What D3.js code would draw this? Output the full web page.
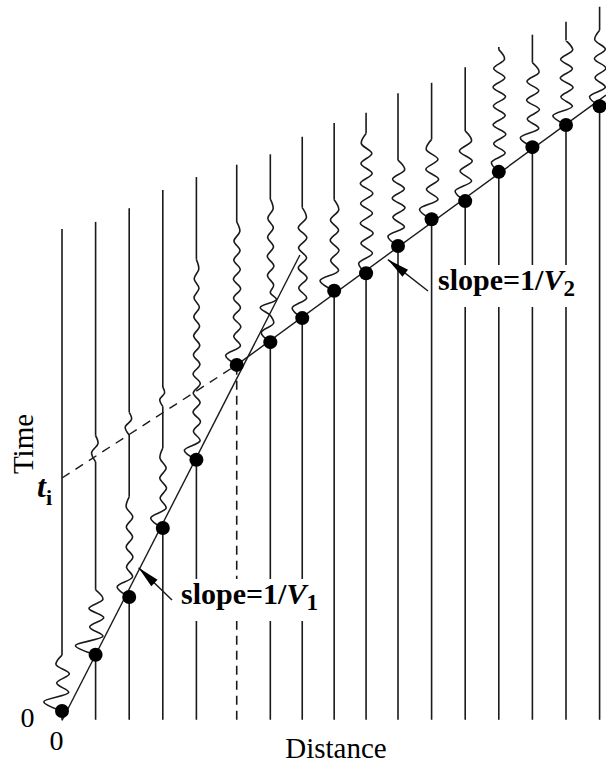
<!DOCTYPE html>
<html>
<head>
<meta charset="utf-8">
<script src="https://cdn.jsdelivr.net/npm/d3@7"></script>
<style>
  html, body { margin: 0; padding: 0; background: #fff; }
  svg { display: block; }
</style>
</head>
<body>
<svg id="chart" width="606" height="765"></svg>
<script>
// Geophone offsets along the spread (in trace-spacing units)
const distance = [0, 1, 2, 3, 4, 5.2, 6.2, 7.15, 8.1, 9.05, 10, 11, 12, 13, 14, 15, 16];
// First-break times picked on each trace
const firstArrival = [0.15, 8.8, 17.7, 28.3, 38.8, 53.4, 56.9, 60.6, 64.8, 67.5, 71.7, 75.8, 78.6, 83.1, 86.9, 90.3, 93.2];
// Record length of each trace
const traceEnd = [74.3, 75.4, 77.5, 80.3, 82.3, 84.2, 85.8, 88.5, 90.6, 92.2, 95.2, 96.8, 99.2, 102.3, 104.2, 106.2, 108.5];
const traceStart = -1.2;

// Wavelet after each first break: opening swing, coda ripple size, coda duration
const firstSwing = [0.54, 0.6, 0.36, 0.36, 0.36, 0.33, 0.27, 0.3, 0.42, 0.22, 0.3, 0.36, 0.3, 0.22, 0.36, 0.39, 0.3];
const rippleAmp  = [0.2, 0.22, 0.1, 0.1, 0.11, 0.11, 0.1, 0.13, 0.13, 0.19, 0.19, 0.19, 0.19, 0.19, 0.19, 0.19, 0.17];
const codaLength = [8.6, 10, 15.4, 12.3, 30.8, 22, 22, 17, 14, 21.5, 13.2, 12.3, 10.8, 18.8, 13, 13, 11.7];
// Relative size of successive coda half-cycles
const rippleShape = [1.0, 0.8, 1.1, 0.9, 1.0, 0.85, 1.05, 0.9, 0.95, 0.8, 0.9, 0.75, 0.85, 0.7, 0.8, 0.65,
                     0.7, 0.6, 0.65, 0.55, 0.6, 0.5, 0.5, 0.45, 0.4, 0.35, 0.3, 0.25];

// Weaker secondary arrivals: trace index, onset time, swing, duration
const laterTrace  = [1, 2, 3, 6];
const laterTime   = [38.5, 42.6, 47.0, 61.0];
const laterSwing  = [0.12, 0.12, 0.09, 0.3];
const laterLength = [4.0, 3.5, 3.0, 3.5];

// Travel-time branches
const directD = [0, 7.08],       directT = [-1.3, 70.3];   // slope 1/V1
const interceptD = [0, 5.2],     interceptT = [36, 53.4];  // back-projection to t_i
const refractedD = [5.2, 16.19], refractedT = [53.4, 94.9]; // slope 1/V2
const crossoverD = 5.2;

const halfCycle = 1.5;

const svg = d3.select("#chart");
const x = d3.scaleLinear().domain([0, 16]).range([62, 599.6]);
const y = d3.scaleLinear().domain([0, 100]).range([712, 62]);

const ink = "#1a1a1a";
const serif = "'Liberation Serif', 'Times New Roman', serif";

// Wiggle events on one trace: each is a list of [distance, time] points
function traceEvents(i) {
  const d = distance[i], arr = firstArrival[i], coda = codaLength[i];
  const n = Math.max(2, Math.round(coda / halfCycle));
  let main = [[d, arr]];
  for (let k = 1; k < n; k++) {
    const t = arr + k * coda / n;
    const off = k === 1 ? -firstSwing[i]
      : (k % 2 === 0 ? 1 : -1) * rippleAmp[i] * rippleShape[Math.min(k - 2, rippleShape.length - 1)];
    main.push([d + off, t]);
  }
  main.push([d, arr + coda]);
  const events = [main];
  laterTrace.forEach((tr, j) => {
    if (tr !== i) return;
    const t0 = laterTime[j], len = laterLength[j], s = laterSwing[j];
    const ev = [[d, t0], [d - s, t0 + len * 0.35], [d + s * 0.6, t0 + len * 0.7], [d, t0 + len]];
    if (t0 < arr + coda) {
      // splice into the coda of the main wavelet
      const before = main.filter(p => p[1] < t0 - 0.5);
      const after = main.filter(p => p[1] > t0 + len + 0.5);
      events[0] = before.concat(ev, after);
    } else {
      events.push(ev);
    }
  });
  return events;
}

const wiggle = d3.line()
  .x(p => x(p[0]))
  .y(p => y(p[1]))
  .curve(d3.curveCatmullRom.alpha(0.5));

const traces = svg.append("g").attr("class", "traces");
distance.forEach((d, i) => {
  const events = traceEvents(i);
  // straight stretches between wiggle events
  const stops = [traceStart];
  events.forEach(ev => stops.push(ev[0][1], ev[ev.length - 1][1]));
  stops.push(traceEnd[i]);
  for (let k = 0; k < stops.length; k += 2) {
    const dashed = d === crossoverD && k === 0;
    traces.append("line")
      .attr("x1", x(d)).attr("x2", x(d))
      .attr("y1", y(stops[k])).attr("y2", y(stops[k + 1]))
      .attr("stroke", ink).attr("stroke-width", 1.6)
      .attr("stroke-dasharray", dashed ? "9,6" : null);
  }
  events.forEach(ev => {
    traces.append("path")
      .attr("d", wiggle(ev))
      .attr("fill", "none")
      .attr("stroke", ink)
      .attr("stroke-width", 1.6)
      .attr("stroke-linejoin", "round");
  });
});

// Travel-time lines
const seg = (D, T) => d3.line().x((_, k) => x(D[k])).y((_, k) => y(T[k]))(D);
svg.append("path").attr("d", seg(directD, directT))
  .attr("stroke", ink).attr("stroke-width", 1.4).attr("fill", "none");
svg.append("path").attr("d", seg(refractedD, refractedT))
  .attr("stroke", ink).attr("stroke-width", 1.4).attr("fill", "none");
svg.append("path").attr("d", seg(interceptD, interceptT))
  .attr("stroke", ink).attr("stroke-width", 1.4).attr("fill", "none")
  .attr("stroke-dasharray", "9,7");

// First-break picks
svg.append("g").selectAll("circle")
  .data(distance)
  .join("circle")
  .attr("cx", d => x(d))
  .attr("cy", (d, i) => y(firstArrival[i]))
  .attr("r", 7)
  .attr("fill", "#000");

// Slope labels with a white backing box and pointer arrow
function slopeLabel(tx, ty, sub, tipD, tipT, tail) {
  const g = svg.append("g");
  const box = g.append("rect").attr("fill", "#fff");
  const t = g.append("text")
    .attr("x", tx).attr("y", ty)
    .attr("font-family", serif).attr("font-weight", "bold")
    .attr("font-size", 30).attr("fill", "#000");
  t.append("tspan").text("slope=1/");
  t.append("tspan").attr("font-style", "italic").text("V");
  t.append("tspan").attr("font-size", 23).attr("dy", 6).text(sub);
  const bb = t.node().getBBox();
  box.attr("x", bb.x - 4).attr("y", bb.y + 2).attr("width", bb.width + 8).attr("height", bb.height + 4);

  const px = x(tipD), py = y(tipT);
  const ang = Math.atan2(tail[1] - py, tail[0] - px);
  svg.append("line")
    .attr("x1", tail[0]).attr("y1", tail[1]).attr("x2", px).attr("y2", py)
    .attr("stroke", ink).attr("stroke-width", 1.5);
  const L = 22, W = 4.5;
  const bx = px + L * Math.cos(ang), by = py + L * Math.sin(ang);
  const nx = -Math.sin(ang) * W, ny = Math.cos(ang) * W;
  svg.append("path")
    .attr("d", `M${px},${py}L${bx + nx},${by + ny}L${bx - nx},${by - ny}Z`)
    .attr("fill", "#000");
}
slopeLabel(181, 604, "1", 2.28, 22.2, [172, 600]);
slopeLabel(438, 290, "2", 9.7, 69.6, [428, 291]);

// Axis annotations
svg.append("text")
  .attr("transform", "translate(33,444) rotate(-90)")
  .attr("text-anchor", "middle")
  .attr("font-family", serif).attr("font-size", 29).attr("fill", "#000")
  .text("Time");
svg.append("text")
  .attr("x", 336).attr("y", 758).attr("text-anchor", "middle")
  .attr("font-family", serif).attr("font-size", 29).attr("fill", "#000")
  .text("Distance");
svg.append("text")
  .attr("x", 27.5).attr("y", 727).attr("text-anchor", "middle")
  .attr("font-family", serif).attr("font-size", 28).attr("fill", "#000")
  .text("0");
svg.append("text")
  .attr("x", 56.5).attr("y", 750).attr("text-anchor", "middle")
  .attr("font-family", serif).attr("font-size", 28).attr("fill", "#000")
  .text("0");
const ti = svg.append("text")
  .attr("x", 37).attr("y", 497)
  .attr("font-family", serif).attr("font-size", 32).attr("fill", "#000");
ti.append("tspan").attr("font-style", "italic").attr("font-weight", "bold").text("t");
ti.append("tspan").attr("font-weight", "bold").attr("font-size", 22).attr("dy", 8).text("i");
</script>
</body>
</html>
